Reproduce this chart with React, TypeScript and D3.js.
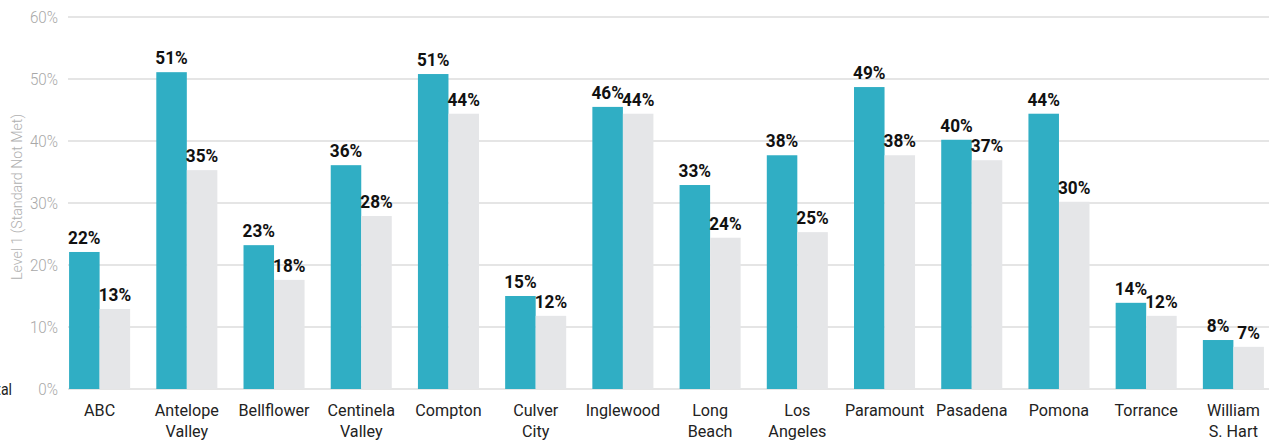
import React from "react";
import * as d3 from "d3";

const categories = ["ABC", "Antelope Valley", "Bellflower", "Centinela Valley", "Compton", "Culver City", "Inglewood", "Long Beach", "Los Angeles", "Paramount", "Pasadena", "Pomona", "Torrance", "William S. Hart"];
const categoryLines = [["ABC"], ["Antelope", "Valley"], ["Bellflower"], ["Centinela", "Valley"], ["Compton"], ["Culver", "City"], ["Inglewood"], ["Long", "Beach"], ["Los", "Angeles"], ["Paramount"], ["Pasadena"], ["Pomona"], ["Torrance"], ["William", "S. Hart"]];
const districtValues = [22.1, 51.1, 23.2, 36.1, 50.8, 15.0, 45.5, 32.9, 37.7, 48.7, 40.2, 44.4, 13.9, 7.9];
const totalValues = [12.9, 35.3, 17.6, 27.9, 44.4, 11.8, 44.4, 24.4, 25.3, 37.7, 36.9, 30.2, 11.8, 6.8];
const yTicks = [0, 10, 20, 30, 40, 50, 60];

const W = 1269, H = 440;
const FONT = "Roboto, 'DejaVu Sans Condensed', sans-serif";

function CText({ x, y, sx = 0.88, children, rotate = 0, ...rest }: any) {
  return (
    <g transform={`translate(${x},${y}) rotate(${rotate}) scale(${sx},1)`}>
      <text {...rest}>{children}</text>
    </g>
  );
}

export default function App() {
  const x = d3.scaleBand<string>().domain(categories).range([56, 1277]).paddingInner(0.3).paddingOuter(0.15);
  const y = d3.scaleLinear().domain([0, 60]).range([389, 17]);
  const bw = x.bandwidth();
  const half = bw / 2;
  const fmt = (v: number) => `${Math.round(v)}%`;
  return (
    <svg width={W} height={H} style={{ position: "absolute", left: 0, top: 0, background: "#fff" }} fontFamily={FONT}>
      {yTicks.map((t) => (
        <g key={t}>
          <line x1={68} x2={W} y1={y(t)} y2={y(t)} stroke="#dcdcdc" strokeWidth={1.3} />
          <CText x={58} y={y(t)} dy="0.35em" sx={0.95} textAnchor="end" fontSize={16} fontWeight={300} fill="#a8a8a8">{t}%</CText>
        </g>
      ))}
      <CText x={22} y={y(30) - 6} rotate={-90} sx={0.98} textAnchor="middle" fontSize={14.5} fontWeight={300} fill="#b0b0b0">Level 1 (Standard Not Met)</CText>
      <CText x={12} y={y(0)} dy="0.35em" textAnchor="end" fontSize={16} fill="#222">Total</CText>
      {categories.map((c, i) => {
        const x0 = x(c)!;
        return (
          <g key={c}>
            <rect x={x0} y={y(districtValues[i])} width={half} height={y(0) - y(districtValues[i])} fill="#30aec4" />
            <rect x={x0 + half} y={y(totalValues[i])} width={half} height={y(0) - y(totalValues[i])} fill="#e5e6e8" />
            <CText x={x0 + half / 2} y={y(districtValues[i]) - 8} sx={0.93} textAnchor="middle" fontSize={18.5} fontWeight="bold" fill="#111">{fmt(districtValues[i])}</CText>
            <CText x={x0 + half * 1.5} y={y(totalValues[i]) - 8} sx={0.93} textAnchor="middle" fontSize={18.5} fontWeight="bold" fill="#111">{fmt(totalValues[i])}</CText>
            {categoryLines[i].map((l, j) => (
              <CText key={j} x={x0 + half} y={416 + j * 21} sx={0.95} textAnchor="middle" fontSize={17} fill="#222">{l}</CText>
            ))}
          </g>
        );
      })}
    </svg>
  );
}
